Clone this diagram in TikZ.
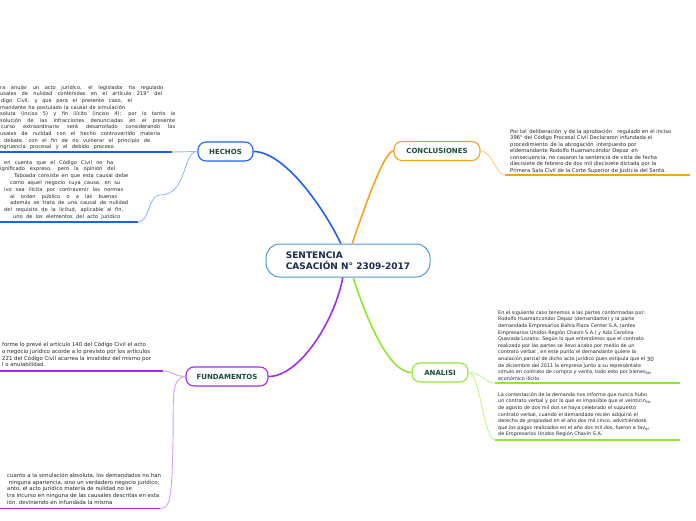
\documentclass[tikz,border=0pt]{standalone}
\usepackage{fontspec}
\setmainfont{DejaVu Sans}
\definecolor{hblue}{HTML}{1F5FF2}
\definecolor{hblueL}{HTML}{9DB8F7}
\definecolor{oran}{HTML}{F8A21E}
\definecolor{oranL}{HTML}{FCCB84}
\definecolor{purp}{HTML}{A22BEF}
\definecolor{purpL}{HTML}{D3A0F6}
\definecolor{gree}{HTML}{8FE830}
\definecolor{greeL}{HTML}{C4F28E}
\definecolor{rootc}{HTML}{4A98D6}
\definecolor{nodetext}{HTML}{1C4B3D}
\definecolor{roottext}{HTML}{1A2A50}
\definecolor{bodytext}{HTML}{262626}
\newcommand{\jl}[2]{\makebox[#1pt][s]{#2}}
\newcommand{\lowbit}[1]{\raisebox{-1pt}{\fontsize{4}{4}\selectfont #1}}
\begin{document}
\begin{tikzpicture}[x=1pt,y=-1pt,
  topic/.style={draw, line width=1.1pt, rounded corners=8pt, fill=white,
    font=\fontsize{7}{8}\selectfont\bfseries, text=nodetext,
    minimum height=19pt, inner sep=0pt},
  body/.style={font=\fontsize{4.9}{6.6}\selectfont, text=bodytext, align=left,
    inner sep=0pt, anchor=north west},
  mainbr/.style={line width=1.6pt},
  subbr/.style={line width=0.9pt},
  uline/.style={line width=1.5pt}]
\useasboundingbox (0,0) rectangle (696,520);

% ---- nodes
\node[draw=rootc, line width=1pt, rounded corners=14pt, minimum width=164pt,
  minimum height=33pt, align=left, font=\fontsize{9}{11}\selectfont\bfseries,
  text=roottext, fill=white] (root) at (348,260.5) {SENTENCIA\\CASACIÓN N° 2309-2017};
\node[topic, draw=hblue, minimum width=55pt] (hechos) at (225.5,151.5) {HECHOS};
\node[topic, draw=oran, minimum width=86pt] (concl) at (437,151) {CONCLUSIONES};
\node[topic, draw=purp, minimum width=82pt] (fund) at (227,376.5) {FUNDAMENTOS};
\node[topic, draw=gree, minimum width=56pt] (anal) at (440,372.5) {ANALISI};

% ---- text blocks
\node[body, font=\fontsize{5.1}{6.6}\selectfont] (tA) at (0,84.4) {\strut\jl{163}{ra anular un acto jurídico, el legislador ha regulado}\\
\jl{162}{usales de nulidad contenidas en el artículo 219° del}\\
\hspace*{1pt}\jl{131}{digo Civil, y que para el presente caso, el}\\
\jl{125}{mandante ha postulado la causal de simulación}\\
\jl{175}{soluta (inciso 5) y fin ilícito (inciso 4); por lo tanto la}\\
\jl{175}{solución de las infracciones denunciadas en el presente}\\
\hspace*{1pt}\jl{174}{curso extraordinario será desarrollado considerando las}\\
\jl{160}{usales de nulidad con el hecho controvertido materia}\\
\hspace*{4pt}\jl{146}{debate, con el fin de no vulnerar el principio de}\\
\jl{115}{ngruencia procesal y el debido proceso.}};

\node[body, font=\fontsize{5.1}{6.8}\selectfont] (tB) at (0,159.2) {\strut\hspace*{4pt}\jl{109}{en cuenta que el Código Civil no ha}\\
\jl{115}{ignificado expreso, pero la opinión del}\\
\hspace*{14pt}\jl{114}{Taboada consiste en que esta causal debe}\\
\hspace*{10pt}\jl{110}{como aquel negocio cuya causa, en su}\\
\hspace*{4pt}\jl{119}{ivo sea ilícita por contravenir las normas}\\
\hspace*{10pt}\jl{107}{al orden público o a las buenas}\\
\hspace*{10pt}\jl{118}{además se trata de una causal de nulidad}\\
\hspace*{4pt}\jl{119}{del requisito de la licitud, aplicable al fin,}\\
\hspace*{13pt}\jl{107}{uno de los elementos del acto jurídico}};

\node[body, font=\fontsize{5.4}{6.9}\selectfont] (tC) at (2,341.2) {\strut forme lo prevé el artículo 140 del Código Civil el acto\\
o negocio jurídico acorde a lo previsto por los artículos\\
221 del Código Civil acarrea la invalidez del mismo por\\
l o anulabilidad.};

\node[body, font=\fontsize{5.4}{6.8}\selectfont] (tD) at (7,472.3) {\strut cuanto a la simulación absoluta, los demandados no han\\
\ ninguna apariencia, sino un verdadero negocio jurídico;\\
anto, el acto jurídico materia de nulidad no se\\
tra incurso en ninguna de las causales descritas en esta\\
ión, deviniendo en infundada la misma};

\node[body, font=\fontsize{5.2}{6.5}\selectfont] (tE) at (510,128.4) {\strut Por tal\enspace deliberación\enspace y de la aprobación\quad regulado en el inciso\\
396° del Código Procesal Civil Declararon infundada el\\
procedimiento\enspace de la abrogación\enspace interpuesto por\\
eldemandante Rodolfo Huamancóndor Depaz\enspace en\\
consecuencia, no casaron la sentencia de vista de fecha\\
diecisiete de febrero de dos mil diecisiete dictada por la\\
Primera Sala Civil de la Corte Superior de Justicia del Santa.};

\node[body] (tF) at (498,309.4) {\strut En el siguiente caso tenemos a las partes conformadas por:\\
Rodolfo Huamancondor Depaz (demandante) y la parte\\
demandada Empresarios Bahía Plaza Center S.A. (antes\\
Empresarios Unidos Región Chavín S.A.) y Ada Carolina\\
Quezada Lozano. Según lo que entendimos que el contrato\\
realizado por las partes se llevo acabo por medio de un\\
contrato verbal , en este punto el demandante quiere la\\
anulación parcial de dicho acto jurídico pues estipula que el \raisebox{-0.8pt}{\fontsize{5.6}{6}\selectfont 30}\\
de diciembre del 2011 la empresa junto a su represéntate\\
simulo en contrato de compra y venta, todo esto por bienes\lowbit{tar}\\
económico ilícito.};

\node[body] (tG) at (498,391.4) {\strut La contestación de la demanda nos informa que nunca hubo\\
un contrato verbal y por lo que es imposible que el veinticin\lowbit{co}\\
de agosto de dos mil dos se haya celebrado el supuesto\\
contrato verbal, cuando el demandado recién adquirió el\\
derecho de propiedad en el año dos mil cinco, advirtiéndose\\
que los pagos realizados en el año dos mil dos, fueron a fav\lowbit{or}\\
de Empresarios Unidos Región Chavín S.A.};

% ---- underline end points
\coordinate (uA0) at (0,152);   \coordinate (uA1) at (172,152);
\coordinate (uB0) at (0,222);   \coordinate (uB1) at (138,222);
\coordinate (uC0) at (0,371);   \coordinate (uC1) at (163,371);
\coordinate (uD0) at (0,508.5); \coordinate (uD1) at (160,508.5);
\coordinate (uE0) at (505,175); \coordinate (uE1) at (690,175);
\coordinate (uF0) at (495,383); \coordinate (uF1) at (680,383);
\coordinate (uG0) at (495,440); \coordinate (uG1) at (680,440);

% ---- main branches
\draw[mainbr, hblue] (root.113) .. controls (325,210) and (285,151.5) .. (hechos.east);
\draw[mainbr, oran] (root.76) .. controls (372,185) and (386,151) .. (concl.west);
\draw[mainbr, purp] (root.253) .. controls (335,320) and (300,376.5) .. (fund.east);
\draw[mainbr, gree] (root.287) .. controls (365,315) and (388,372.5) .. (anal.west);

% ---- sub branches
\draw[subbr, hblueL] (hechos.west) -- (uA1);
\draw[uline, hblue] (uA0) -- (uA1);
\draw[subbr, hblueL] (hechos.west) .. controls (182,151.5) and (188,195) .. (160,195)
  .. controls (148,195) and (150,222) .. (uB1);
\draw[uline, hblue] (uB0) -- (uB1);

\draw[subbr, oranL] (concl.east) .. controls (492,151) and (496,175) .. (uE0);
\draw[uline, oran] (uE0) -- (uE1);

\draw[subbr, purpL] (fund.west) .. controls (175,376.5) and (172,371) .. (uC1);
\draw[uline, purp] (uC0) -- (uC1);
\draw[subbr, purpL] (fund.west) .. controls (170,378) and (174,400) .. (173,440)
  .. controls (172,500) and (170,508.5) .. (uD1);
\draw[uline, purp] (uD0) -- (uD1);

\draw[subbr, greeL] (anal.east) .. controls (482,372.5) and (485,383) .. (uF0);
\draw[uline, gree] (uF0) -- (uF1);
\draw[subbr, greeL] (anal.east) .. controls (480,372.5) and (484,440) .. (uG0);
\draw[uline, gree] (uG0) -- (uG1);
\end{tikzpicture}
\end{document}
